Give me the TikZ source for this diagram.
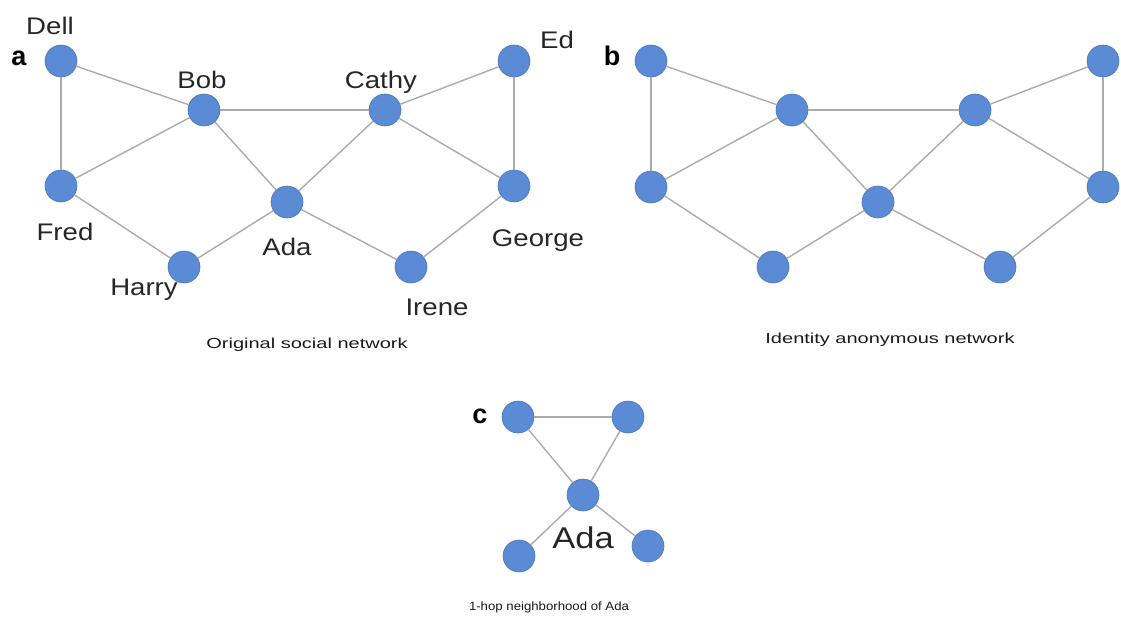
\documentclass[tikz,border=0pt]{standalone}
\usepackage{fontspec}
\setmainfont{Liberation Sans}
\definecolor{nodeblue}{HTML}{5B8BD4}
\definecolor{nodeedge}{HTML}{4A77BA}
\definecolor{linkgray}{HTML}{ABABAB}
\newcommand{\lbl}[1]{\scalebox{1.15}[1]{#1}}
\newcommand{\capt}[1]{\scalebox{1.38}[1]{#1}}
\tikzset{
  vertex/.style={circle, fill=nodeblue, draw=nodeedge, line width=0.6pt, minimum size=32pt, inner sep=0pt},
  link/.style={draw=linkgray, line width=1.4pt},
  vlabel/.style={anchor=base, font=\fontsize{24}{28}\selectfont, text=black!85, inner sep=0pt},
  panel/.style={anchor=base, font=\fontsize{27}{30}\bfseries\selectfont, inner sep=0pt},
  captext/.style={anchor=base, font=\fontsize{14.5}{17}\selectfont, text=black!90, inner sep=0pt}
}
\begin{document}
\begin{tikzpicture}[x=1pt, y=-1pt]
\useasboundingbox (0,0) rectangle (1121,621);

% ---- (a) original social network ----
\node[vertex] (dell)   at (61,61)   {};
\node[vertex] (bob)    at (204,110) {};
\node[vertex] (cathy)  at (385,110) {};
\node[vertex] (ed)     at (514,61)  {};
\node[vertex] (fred)   at (61,186)  {};
\node[vertex] (ada)    at (287,202) {};
\node[vertex] (george) at (514,186) {};
\node[vertex] (harry)  at (184,267) {};
\node[vertex] (irene)  at (411,267) {};

\draw[link] (dell) -- (bob);
\draw[link] (dell) -- (fred);
\draw[link] (bob) -- (fred);
\draw[link] (bob) -- (cathy);
\draw[link] (bob) -- (ada);
\draw[link] (cathy) -- (ed);
\draw[link] (cathy) -- (ada);
\draw[link] (cathy) -- (george);
\draw[link] (ed) -- (george);
\draw[link] (fred) -- (harry);
\draw[link] (harry) -- (ada);
\draw[link] (ada) -- (irene);
\draw[link] (irene) -- (george);

\node[panel] (la) at (19,65) {a};
\node[vlabel] (tdell)   at (50,34)   {\lbl{Dell}};
\node[vlabel] (tbob)    at (202,88)  {\lbl{Bob}};
\node[vlabel] (tcathy)  at (381,88)  {\lbl{Cathy}};
\node[vlabel] (ted)     at (557,48)  {\lbl{Ed}};
\node[vlabel] (tfred)   at (65,240)  {\lbl{Fred}};
\node[vlabel] (tada)    at (287,255) {\lbl{Ada}};
\node[vlabel] (tgeorge) at (538,246) {\lbl{George}};
\node[vlabel] (tharry)  at (144,295) {\lbl{Harry}};
\node[vlabel] (tirene)  at (437,315) {\lbl{Irene}};
\node[captext] (capa) at (307,348) {\capt{Original social network}};

% ---- (b) identity anonymous network ----
\node[vertex] (b1) at (651,61)   {};
\node[vertex] (b2) at (792,110)  {};
\node[vertex] (b3) at (975,110)  {};
\node[vertex] (b4) at (1103,61)  {};
\node[vertex] (b5) at (651,187)  {};
\node[vertex] (b6) at (878,202)  {};
\node[vertex] (b7) at (1103,187) {};
\node[vertex] (b8) at (773,267)  {};
\node[vertex] (b9) at (1000,267) {};

\draw[link] (b1) -- (b2);
\draw[link] (b1) -- (b5);
\draw[link] (b2) -- (b5);
\draw[link] (b2) -- (b3);
\draw[link] (b2) -- (b6);
\draw[link] (b3) -- (b4);
\draw[link] (b3) -- (b6);
\draw[link] (b3) -- (b7);
\draw[link] (b4) -- (b7);
\draw[link] (b5) -- (b8);
\draw[link] (b8) -- (b6);
\draw[link] (b6) -- (b9);
\draw[link] (b9) -- (b7);

\node[panel] (lb) at (612,65) {b};
\node[captext] (capb) at (890,343) {\capt{Identity anonymous network}};

% ---- (c) 1-hop neighbourhood of Ada ----
\node[vertex] (c1) at (518,417) {};
\node[vertex] (c2) at (628,417) {};
\node[vertex] (c3) at (583,495) {};
\node[vertex] (c4) at (519,556) {};
\node[vertex] (c5) at (648,546) {};

\draw[link] (c1) -- (c2);
\draw[link] (c1) -- (c3);
\draw[link] (c2) -- (c3);
\draw[link] (c3) -- (c4);
\draw[link] (c3) -- (c5);

\node[panel] (lc) at (480,423) {c};
\node[vlabel, font=\fontsize{30}{34}\selectfont] (tadac) at (583,548) {\lbl{Ada}};
\node[captext, font=\fontsize{12}{14}\selectfont] (capc) at (549,610) {\scalebox{1.1}[1]{1-hop neighborhood of Ada}};
\end{tikzpicture}
\end{document}
